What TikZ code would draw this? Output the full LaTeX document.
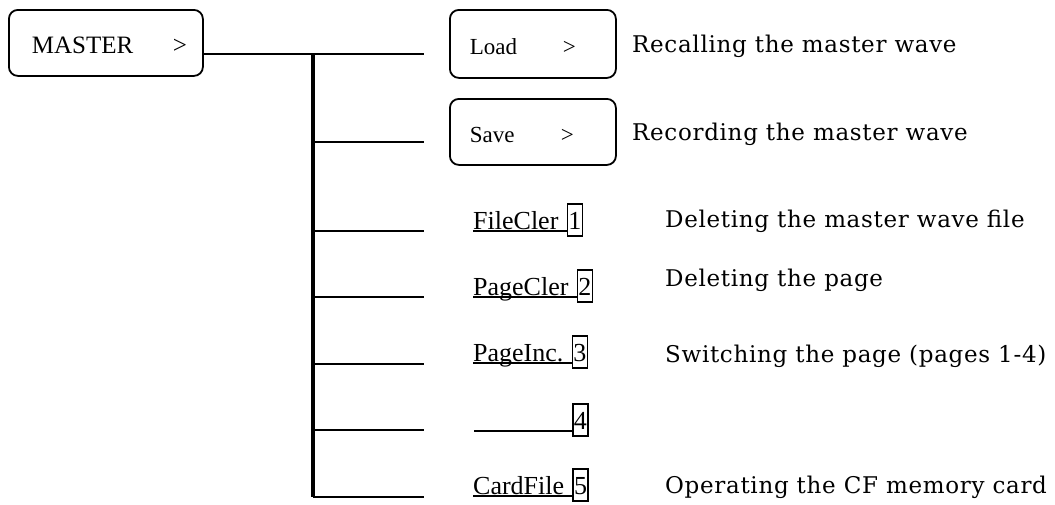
\documentclass[tikz,border=0pt]{standalone}
\usepackage{fontspec}
\setmainfont{Liberation Serif}
\newfontfamily\descfont[LetterSpace=3]{DejaVu Serif}
\usetikzlibrary{positioning}

\begin{document}
\begin{tikzpicture}[x=1pt,y=-1pt,
	menubox/.style={draw, line width=1.8pt, rounded corners=9pt, inner ysep=0pt, inner xsep=20pt,
		text width=126pt, text height=44pt, text depth=22pt, align=left, font=\fontsize{23}{23}\selectfont},
	itemtext/.style={anchor=base west, inner sep=0pt, font=\fontsize{26}{26}\selectfont},
	keybox/.style={draw, line width=1.5pt, inner xsep=1pt, inner ysep=0pt,
		text height=25pt, text depth=7pt, font=\fontsize{26}{26}\selectfont},
	desc/.style={anchor=base west, inner sep=0pt, font=\descfont\fontsize{23}{23}\selectfont},
	branch/.style={line width=2.8pt},
	trunk/.style={line width=3.2pt},
	uline/.style={line width=1.8pt}]
	\useasboundingbox (0,0) rectangle (1055,504);

	\node[menubox, anchor=north west, inner xsep=23pt, text width=148pt, font=\fontsize{25}{25}\selectfont] (master) at (8,9) {\makebox[141pt][l]{MASTER}>};
	\node[menubox, anchor=north west, text height=45pt, text depth=23pt] (load) at (449,9) {\makebox[93pt][l]{Load}>};
	\node[menubox, anchor=north west] (save) at (449,98) {\makebox[91pt][l]{Save}>};

	\coordinate (trunk) at (313,54);
	\foreach \y [count=\i] in {54,142,231,297,364,430,497}
		\coordinate (b\i) at (424,\y);
	\draw[branch] (master.east |- b1) -- (b1);
	\draw[trunk] (trunk) -- (trunk |- b7);
	\foreach \i in {2,...,7}
		\draw[branch] (trunk |- b\i) -- (b\i);

	\node[itemtext] (fclr) at (473,229) {FileCler};
	\node[keybox, base right=8pt of fclr] (k1) {1};
	\node[itemtext] (pclr) at (473,295) {PageCler};
	\node[keybox, base right=8pt of pclr] (k2) {2};
	\node[itemtext] (pinc) at (473,361) {PageInc.};
	\node[keybox, base right=8pt of pinc] (k3) {3};
	\coordinate (blank) at (474,429);
	\node[keybox, anchor=base west] (k4) at (572,429) {4};
	\node[itemtext] (cfile) at (473,494) {CardFile};
	\node[keybox, base right=8pt of cfile] (k5) {5};

	\draw[uline] ([yshift=-2pt]fclr.base west) -- ([yshift=-2pt]fclr.base west -| k1.west);
	\draw[uline] ([yshift=-2pt]pclr.base west) -- ([yshift=-2pt]pclr.base west -| k2.west);
	\draw[uline] ([yshift=-2pt]pinc.base west) -- ([yshift=-2pt]pinc.base west -| k3.west);
	\draw[uline] ([yshift=-2pt]blank) -- ([yshift=-2pt]blank -| k4.west);
	\draw[uline] ([yshift=-2pt]cfile.base west) -- ([yshift=-2pt]cfile.base west -| k5.west);

	\node[desc] (dload) at (632,52) {Recalling the master wave};
	\node[desc] (dsave) at (632,140) {Recording the master wave};
	\node[desc] (dfclr) at (665,227) {Deleting the master wave file};
	\node[desc] (dpclr) at (665,286) {Deleting the page};
	\node[desc] (dpinc) at (665,362) {Switching the page (pages 1-4)};
	\node[desc] (dcfile) at (665,493) {Operating the CF memory card};
\end{tikzpicture}
\end{document}
